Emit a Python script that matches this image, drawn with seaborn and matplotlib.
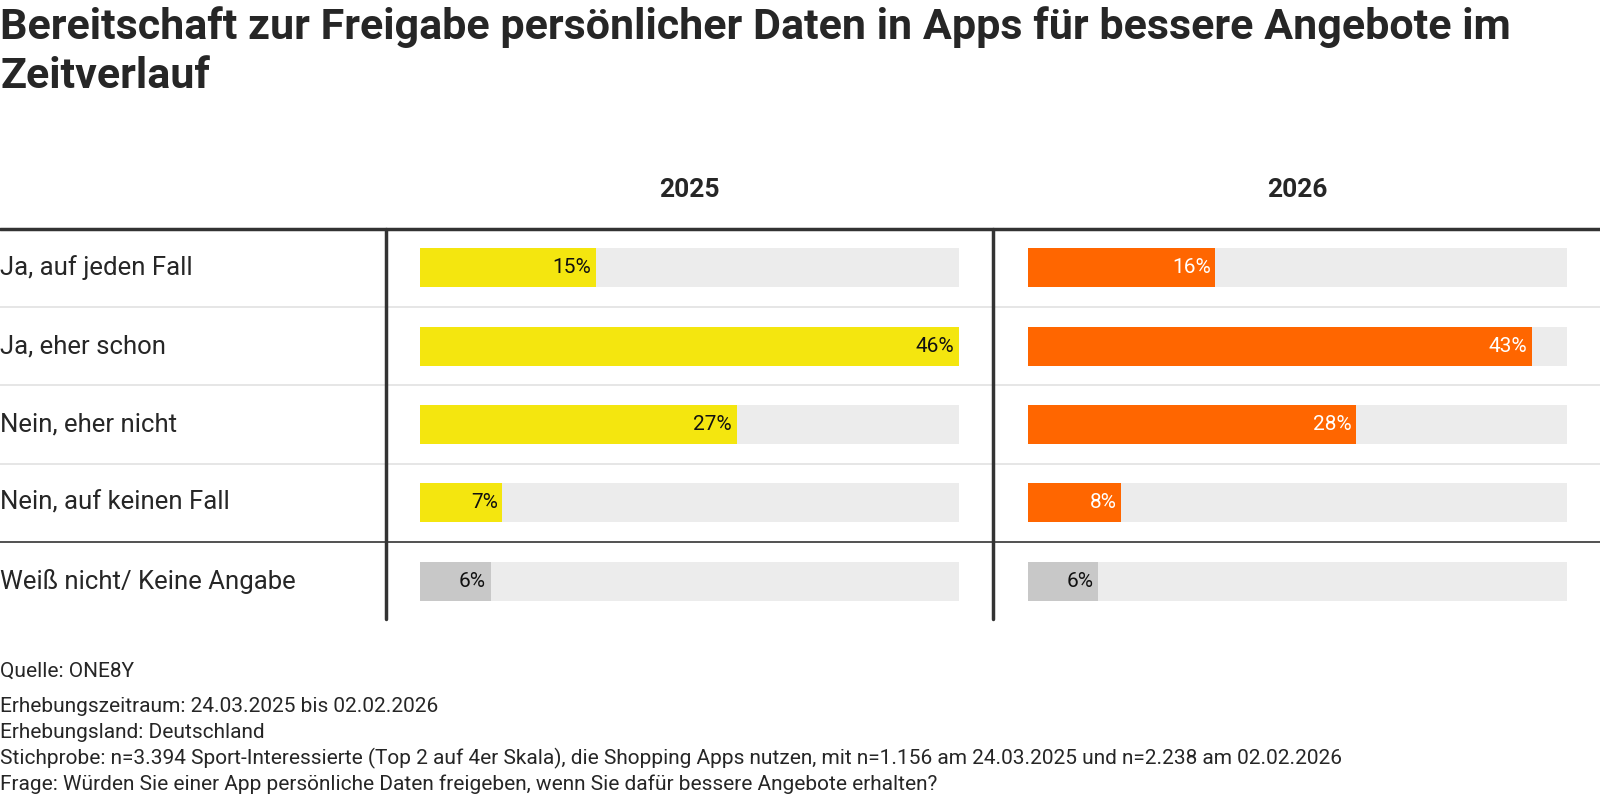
import matplotlib
matplotlib.use("Agg")
import matplotlib.pyplot as plt
import seaborn as sns
import pandas as pd
from matplotlib.lines import Line2D

sns.set_style("white")
plt.rcParams['font.family'] = ['Roboto', 'DejaVu Sans']

categories = ["Ja, auf jeden Fall", "Ja, eher schon", "Nein, eher nicht",
              "Nein, auf keinen Fall", "Weiß nicht/ Keine Angabe"]
years = ["2025", "2026"]
values_2025 = [15, 46, 27, 7, 6]
values_2026 = [16, 43, 28, 8, 6]
year_colors = {"2025": "#f4e60f", "2026": "#ff6600"}
gray = "#c8c8c8"
track = "#ececec"
scale_max = 46

# reference measured in a 1568x784 view
W, H = 1568, 784
fig = plt.figure(figsize=(16, 8), dpi=100)

def fx(px): return px / W
def fy(py): return 1 - py / H

fig.text(fx(0), fy(6), "Bereitschaft zur Freigabe persönlicher Daten in Apps für bessere Angebote im\nZeitverlauf",
         fontsize=31, fontweight="bold", va="top", ha="left", linespacing=1.25)

top, bottom = 224, 608
row_h = (bottom - top) / 5
panels = [(412, 940, values_2025, "2025"), (1007, 1536, values_2026, "2026")]

for x0, x1, vals, yr in panels:
    ax = fig.add_axes([fx(x0), fy(bottom), fx(x1 - x0), (bottom - top) / H])
    df = pd.DataFrame({"cat": categories, "val": vals})
    cols = [year_colors[yr]] * 4 + [gray]
    sns.barplot(data=df.assign(val=scale_max), x="val", y="cat", color=track,
                saturation=1, width=0.5, linewidth=0, ax=ax)
    sns.barplot(data=df, x="val", y="cat", hue="cat", palette=cols, legend=False,
                saturation=1, width=0.5, linewidth=0, ax=ax)
    ax.set_xlim(0, scale_max)
    ax.set_ylim(4.5, -0.5)
    ax.axis("off")
    for i, v in enumerate(vals):
        tc = "white" if (yr == "2026" and i < 4) else "#111111"
        ax.text(v - 0.4, i, f"{v}%", ha="right", va="center", fontsize=15, color=tc)
    fig.text(fx((x0 + x1) / 2), fy(186), yr, ha="center", va="center", fontsize=19, fontweight="bold")

for i, c in enumerate(categories):
    fig.text(fx(0), fy(top + row_h * (i + 0.5)), c, ha="left", va="center", fontsize=18.5)

# lines
fig.add_artist(Line2D([0, 1], [fy(224)] * 2, color="#333333", lw=2.5))
for k in range(1, 5):
    y = fy(top + row_h * k)
    col = "#333333" if k == 4 else "#e2e2e2"
    fig.add_artist(Line2D([0, 1], [y, y], color=col, lw=1.2))
for xv in (378, 973):
    fig.add_artist(Line2D([fx(xv)] * 2, [fy(224), fy(607)], color="#333333", lw=2.5))

fig.text(fx(0), fy(658), "Quelle: ONE8Y", fontsize=15, va="center")
notes = ["Erhebungszeitraum: 24.03.2025 bis 02.02.2026",
         "Erhebungsland: Deutschland",
         "Stichprobe: n=3.394 Sport-Interessierte (Top 2 auf 4er Skala), die Shopping Apps nutzen, mit n=1.156 am 24.03.2025 und n=2.238 am 02.02.2026",
         "Frage: Würden Sie einer App persönliche Daten freigeben, wenn Sie dafür bessere Angebote erhalten?"]
for j, n in enumerate(notes):
    fig.text(fx(0), fy(692 + 25.5 * j), n, fontsize=15, va="center")

fig.savefig("out.png", dpi=100)
